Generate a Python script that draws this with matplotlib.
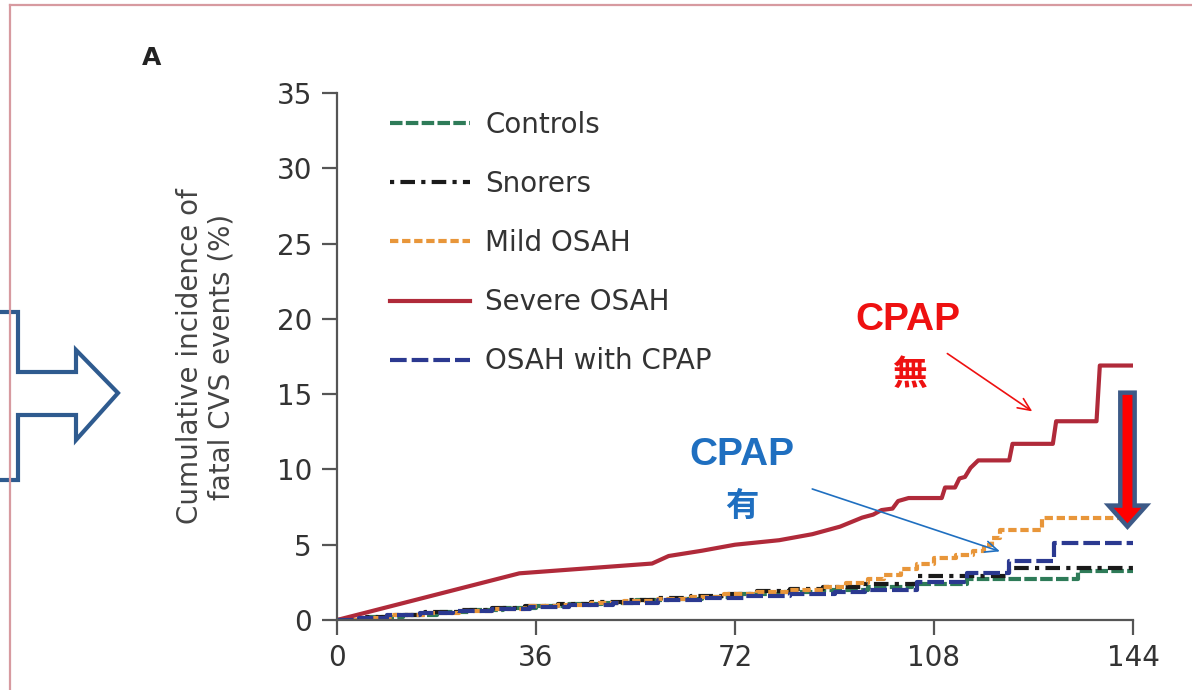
import matplotlib
matplotlib.use("Agg")
import matplotlib.pyplot as plt
from matplotlib.patches import Polygon, FancyArrow
from matplotlib.lines import Line2D

# follow-up (months) and cumulative incidence (%)
controls_t = [0, 6, 12, 18, 24, 30, 36, 42, 48, 54, 60, 66, 72, 80, 88, 96, 104, 114, 134, 144]
controls_y = [0, 0.2, 0.35, 0.5, 0.65, 0.8, 0.9, 1.05, 1.15, 1.3, 1.4, 1.55, 1.7, 1.85, 2.0, 2.2, 2.4, 2.7, 3.25, 3.25]

snorers_t = [0, 5, 10, 16, 22, 28, 34, 40, 46, 52, 58, 64, 70, 76, 82, 88, 95, 105, 121.5, 144]
snorers_y = [0, 0.2, 0.35, 0.5, 0.65, 0.8, 0.95, 1.05, 1.2, 1.3, 1.45, 1.6, 1.75, 1.9, 2.05, 2.2, 2.4, 2.9, 3.45, 3.45]

mild_t = [0, 5, 10, 16, 22, 28, 34, 40, 46, 52, 58, 64, 70, 76, 82, 88, 92, 96, 99, 102, 105,
          108, 112, 115, 117, 118.5, 120, 127.5, 144]
mild_y = [0, 0.15, 0.3, 0.45, 0.6, 0.75, 0.9, 1.0, 1.15, 1.25, 1.4, 1.55, 1.7, 1.85, 2.0, 2.2, 2.45,
          2.7, 3.0, 3.4, 3.7, 4.1, 4.3, 4.6, 5.0, 5.45, 5.95, 6.75, 6.75]

# severe OSAH: smooth rise early, clear steps later (repeated times = vertical steps)
severe_t = [0, 33, 57, 60, 66, 72, 80, 86, 91, 95, 97, 98.5, 100.5, 101.5, 103.4, 109.4, 110,
            111.8, 112.6, 113.6, 114.6, 116, 121.6, 122.2, 129.5, 130.1, 137.4, 138, 144]
severe_y = [0, 3.1, 3.75, 4.25, 4.6, 5.0, 5.3, 5.7, 6.2, 6.8, 7.0, 7.3, 7.4, 7.9, 8.1, 8.1, 8.8,
            8.8, 9.4, 9.5, 10.1, 10.6, 10.6, 11.7, 11.7, 13.2, 13.2, 16.9, 16.9]

cpap_t = [0, 4, 9, 15, 21, 28, 35, 42, 50, 58, 66, 74, 82, 90, 95.5, 105, 114, 121.5, 129.7, 144]
cpap_y = [0, 0.15, 0.3, 0.45, 0.6, 0.75, 0.85, 1.0, 1.15, 1.3, 1.45, 1.6, 1.75, 1.85, 2.0, 2.55,
          3.1, 3.9, 5.1, 5.1]

x_ticks = [0, 36, 72, 108, 144]
y_ticks = [0, 5, 10, 15, 20, 25, 30, 35]

W, H = 1192, 690
fig = plt.figure(figsize=(W / 100, H / 100), dpi=100)
ax = fig.add_axes([337 / W, 1 - 620 / H, 796 / W, 527 / H])

def px(x, y):
    # figure pixel (from top-left) -> figure fraction
    return (x / W, 1 - y / H)

lw = 3
ax.plot(controls_t, controls_y, drawstyle="steps-post", color="#2e7b58", lw=lw, dashes=(3, 0.8), label="Controls")
ax.plot(snorers_t, snorers_y, drawstyle="steps-post", color="#1a1a1a", lw=lw, dashes=(1, 1.5, 3.5, 1.5), label="Snorers")
ax.plot(mild_t, mild_y, drawstyle="steps-post", color="#e8963a", lw=lw, dashes=(2, 0.9), label="Mild OSAH")
ax.plot(severe_t, severe_y, color="#b02a3a", lw=lw, label="Severe OSAH")
ax.plot(cpap_t, cpap_y, drawstyle="steps-post", color="#2b3990", lw=lw, dashes=(4, 1.2), label="OSAH with CPAP")

ax.set_xlim(0, 144)
ax.set_ylim(0, 35)
ax.set_xticks(x_ticks)
ax.set_yticks(y_ticks)
for s in ["top", "right"]:
    ax.spines[s].set_visible(False)
for s in ["left", "bottom"]:
    ax.spines[s].set_color("#555555")
    ax.spines[s].set_linewidth(1.6)
ax.tick_params(axis="both", length=11, width=1.6, color="#555555", labelsize=20, labelcolor="#333333")
ax.tick_params(axis="y", pad=7)
ax.tick_params(axis="x", pad=6)

ax.set_ylabel("Cumulative incidence of\nfatal CVS events (%)", fontsize=20, color="#444444", linespacing=1.15)
ax.yaxis.set_label_coords(-0.128, 0.5)

leg = ax.legend(loc="upper left", bbox_to_anchor=(0.066, 0.966), frameon=False, fontsize=20,
                handlelength=2.9, handletextpad=0.55, labelspacing=1.12, borderpad=0, borderaxespad=0)
for t in leg.get_texts():
    t.set_color("#333333")

fig.text(*px(152, 58), "A", fontsize=18, fontweight="bold", color="#222222", ha="center", va="center")

# annotations
cjk = ["Noto Sans CJK JP", "DejaVu Sans"]
ax.text(103.3, 19.9, "CPAP", color="#ee1111", fontsize=28, fontweight="bold",
        family="Liberation Sans", ha="center", va="center")
ax.text(103.6, 16.3, "無", color="#ee1111", fontsize=25, fontweight="bold", family=cjk,
        ha="center", va="center")
ax.annotate("", xy=(126.2, 13.75), xytext=(110, 17.8),
            arrowprops=dict(arrowstyle="->,head_length=0.9,head_width=0.4", color="#ee1111", lw=1.2))

ax.text(73.2, 10.96, "CPAP", color="#1f6fc0", fontsize=28, fontweight="bold",
        family="Liberation Sans", ha="center", va="center")
ax.text(73.2, 7.57, "有", color="#1f6fc0", fontsize=24, fontweight="bold", family=cjk,
        ha="center", va="center")
ax.annotate("", xy=(120.4, 4.5), xytext=(85.5, 8.76),
            arrowprops=dict(arrowstyle="->,head_length=0.9,head_width=0.4", color="#1f6fc0", lw=1.2))

# big down arrow (reduction with CPAP)
ax.add_patch(FancyArrow(143.0, 15.1, 0, -8.9, width=2.6, head_width=6.8, head_length=1.4,
                        length_includes_head=True, facecolor="#ff0000", edgecolor="#3d5a87",
                        lw=3.2, clip_on=False, zorder=5))

# callout arrow on the left edge
pts = [(-5, 312), (18, 312), (18, 372), (76, 372), (76, 350), (118, 393), (76, 440),
       (76, 415), (18, 415), (18, 480), (-5, 480)]
fig.add_artist(Polygon([px(x, y) for x, y in pts], closed=True, transform=fig.transFigure,
                       facecolor="white", edgecolor="#2f5b8f", lw=3))

# thin slide frame
fig.add_artist(Line2D([10 / W, 1], [1 - 5 / H, 1 - 5 / H], transform=fig.transFigure, color="#d79aa0", lw=1.6))
fig.add_artist(Line2D([10 / W, 10 / W], [0, 1 - 5 / H], transform=fig.transFigure, color="#d79aa0", lw=1.6))

fig.savefig("out.png", dpi=100)
